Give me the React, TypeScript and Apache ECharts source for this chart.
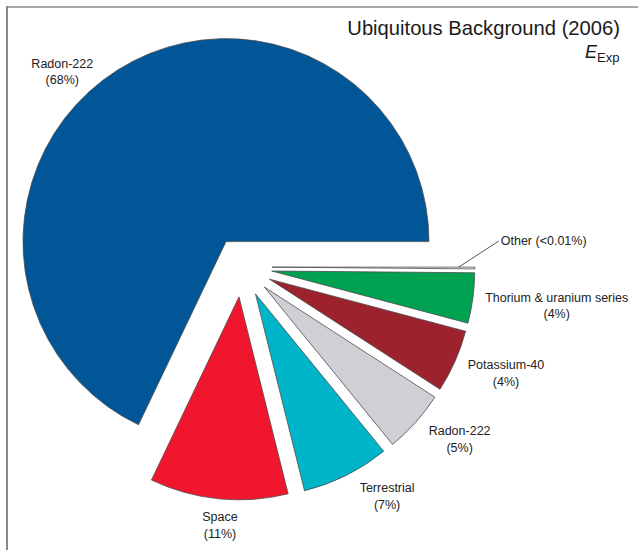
import React, { useEffect, useRef } from "react";
import * as echarts from "echarts";

// ---- data ----
const sliceNames = [
  "Radon-222",
  "Space",
  "Terrestrial",
  "Radon-222",
  "Potassium-40",
  "Thorium & uranium series",
  "Other",
];
// shares as drawn (angle of each slice, %)
const sliceShares = [68, 11, 7, 5, 5, 4, 0.01];
// percentages as printed on the labels
const printedPercents = ["68%", "11%", "7%", "5%", "4%", "4%", "<0.01%"];
const sliceColors = [
  "#005696",
  "#f0162e",
  "#00b5c9",
  "#cfd0d5",
  "#9c222d",
  "#00a150",
  "#ffffff",
];

const TITLE = "Ubiquitous Background (2006)";

// ---- geometry ----
const CX = 242;
const CY = 267;
const R = 203;
const OFFSET = 30;
const FONT = "'Liberation Sans', Arial, Helvetica, sans-serif";

function midAngle(i: number) {
  const total = sliceShares.reduce((a, b) => a + b, 0);
  let before = 0;
  for (let k = 0; k < i; k++) before += sliceShares[k];
  const mid = (before + sliceShares[i] / 2) / total;
  return mid * Math.PI * 2; // counter-clockwise from 3 o'clock
}

export default function App() {
  const ref = useRef<HTMLDivElement>(null);

  useEffect(() => {
    document.body.style.margin = "0";
    if (!ref.current) return;
    const chart = echarts.init(ref.current, undefined, { renderer: "svg" });

    const labelLayout = (p: any) => {
      const i = p.dataIndex;
      const a = midAngle(i);
      const ux = Math.cos(a);
      const uy = -Math.sin(a);
      const vx = CX + OFFSET * ux;
      const vy = CY + OFFSET * uy;
      const ox = vx + R * ux;
      const oy = vy + R * uy;
      if (sliceNames[i] === "Other") {
        const sx = vx + R * 0.92 * ux;
        const sy = vy + R * 0.92 * uy;
        const ex = sx + 40;
        const ey = sy - 26;
        return {
          x: ex + 2,
          y: ey,
          align: "left",
          verticalAlign: "middle",
          labelLinePoints: [
            [sx, sy],
            [ex, ey],
            [ex, ey],
          ],
        };
      }
      if (Math.abs(ux) < 0.3) {
        return { x: ox, y: oy + 10, align: "center", verticalAlign: "top" };
      }
      if (ux > 0) {
        return {
          x: ox + 12,
          y: oy - 9 + 16 * uy,
          align: "left",
          verticalAlign: "top",
        };
      }
      return { x: ox - 24, y: oy + 2, align: "right", verticalAlign: "middle" };
    };

    const common = {
      type: "pie",
      center: [CX, CY],
      radius: [0, R],
      startAngle: 0,
      clockwise: false,
      minAngle: 0.5,
      avoidLabelOverlap: false,
      emphasis: { disabled: true },
    };

    const sliceData = sliceNames.map((name, i) => ({
      name,
      value: sliceShares[i],
      selected: true,
      itemStyle: { color: sliceColors[i] },
    }));

    const labelData = sliceNames.map((name, i) => ({
      name,
      value: sliceShares[i],
      labelLine:
        name === "Other"
          ? { show: true, lineStyle: { color: "#555", width: 1 } }
          : { show: false },
    }));

    chart.setOption({
      animation: false,
      backgroundColor: "#ffffff",
      graphic: [
        {
          type: "line",
          shape: { x1: 6, y1: 7, x2: 638, y2: 7 },
          style: { stroke: "#a8a8a8", lineWidth: 2 },
        },
        {
          type: "line",
          shape: { x1: 7, y1: 6, x2: 7, y2: 550 },
          style: { stroke: "#8a8a8a", lineWidth: 2 },
        },
        {
          type: "text",
          style: {
            text: TITLE,
            x: 620,
            y: 28,
            align: "right",
            verticalAlign: "middle",
            fontSize: 20.2,
            fontFamily: FONT,
            fill: "#1a1a1a",
          },
        },
        {
          type: "text",
          style: {
            text: "E",
            x: 597,
            y: 52,
            align: "right",
            verticalAlign: "middle",
            fontSize: 18,
            fontStyle: "italic",
            fontFamily: FONT,
            fill: "#1a1a1a",
          },
        },
        {
          type: "text",
          style: {
            text: "Exp",
            x: 597,
            y: 57.5,
            align: "left",
            verticalAlign: "middle",
            fontSize: 13,
            fontFamily: FONT,
            fill: "#1a1a1a",
          },
        },
      ],
      series: [
        {
          ...common,
          selectedMode: "multiple",
          selectedOffset: OFFSET,
          itemStyle: { borderColor: "#4d4d4d", borderWidth: 0.8 },
          label: { show: false },
          labelLine: { show: false },
          data: sliceData,
        },
        {
          ...common,
          silent: true,
          z: 3,
          selectedMode: false,
          itemStyle: { color: "rgba(0,0,0,0)", borderWidth: 0 },
          label: {
            show: true,
            position: "outside",
            fontFamily: FONT,
            fontSize: 12.5,
            color: "#222",
            lineHeight: 16.5,
            formatter: (p: any) => {
              const pct = printedPercents[p.dataIndex];
              if (p.name === "Other") return `{c|${p.name} (${pct})}`;
              return `{c|${p.name}}\n{c|(${pct})}`;
            },
            rich: {
              c: {
                align: "center",
                fontFamily: FONT,
                fontSize: 12.5,
                color: "#222",
                lineHeight: 16.5,
              },
            },
          },
          labelLine: { show: false },
          labelLayout,
          data: labelData,
        },
      ],
    });

    return () => chart.dispose();
  }, []);

  return <div ref={ref} style={{ width: 638, height: 550 }} />;
}
